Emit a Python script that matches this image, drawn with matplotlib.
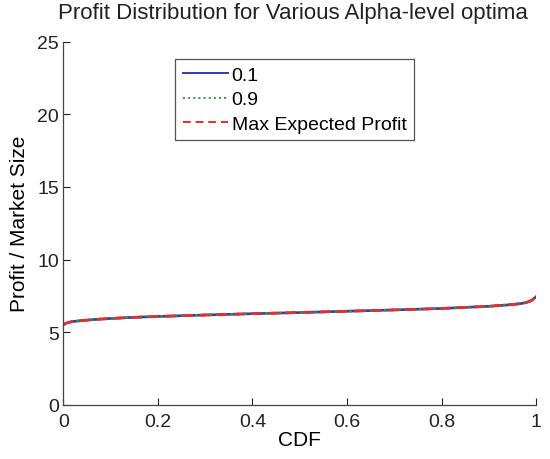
import matplotlib.pyplot as plt
import numpy as np

# profit quantiles for each alpha level optimum
cdf = np.array([0, 0.005, 0.01, 0.02, 0.04, 0.07, 0.1, 0.15, 0.2, 0.3, 0.4, 0.5,
                0.6, 0.7, 0.8, 0.9, 0.95, 0.97, 0.98, 0.99, 1.0])
profit_01 = np.array([5.5, 5.6, 5.66, 5.73, 5.8, 5.88, 5.94, 6.02, 6.08, 6.18, 6.27, 6.35,
                      6.44, 6.53, 6.63, 6.78, 6.9, 6.98, 7.05, 7.18, 7.45])
profit_09 = profit_01.copy()
profit_max = profit_01.copy()

labels = ['0.1', '0.9', 'Max Expected Profit']
xticks = [0, 0.2, 0.4, 0.6, 0.8, 1]
yticks = [0, 5, 10, 15, 20, 25]

plt.rcParams['font.family'] = ['Liberation Sans', 'DejaVu Sans']

fig = plt.figure(figsize=(5.5, 4.6), dpi=100)
ax = fig.add_axes([0.115, 0.118, 0.86, 0.789])

ax.plot(cdf, profit_01, '-', c='#2c3ea8', lw=1.9, label=labels[0])
ax.plot(cdf, profit_09, ':', c='#2e9a40', lw=1.9, label=labels[1])
ax.plot(cdf, profit_max, '--', c='#ee2a2a', lw=1.9, label=labels[2], dashes=(4, 2.5))

ax.set_xlim(0, 1)
ax.set_ylim(0, 25)
ax.set_xticks(xticks)
ax.set_xticklabels(['0', '0.2', '0.4', '0.6', '0.8', '1'])
ax.set_yticks(yticks)
ax.tick_params(direction='in', length=5, width=0.8, labelsize=14, colors='#222222', pad=3)
ax.tick_params(axis='x', pad=6)
ax.spines['top'].set_visible(False)
ax.spines['right'].set_visible(False)
for s in ['left', 'bottom']:
    ax.spines[s].set_color('#444444')
    ax.spines[s].set_linewidth(0.9)

ax.set_title('Profit Distribution for Various Alpha-level optima', fontsize=16, pad=17,
             color='#222222', x=0.485)
ax.set_xlabel('CDF', fontsize=15, labelpad=0)
ax.set_ylabel('Profit / Market Size', fontsize=15, labelpad=6)

leg = ax.legend(loc='upper left', bbox_to_anchor=(0.237, 0.953), fontsize=14,
                handlelength=2.3, handletextpad=0.2, borderpad=0.4, labelspacing=0.34,
                borderaxespad=0, fancybox=False, framealpha=1)
leg.get_frame().set_edgecolor('#555555')
leg.get_frame().set_linewidth(0.9)
for line in leg.get_lines():
    line.set_linewidth(1.4)

plt.savefig('out.png')
